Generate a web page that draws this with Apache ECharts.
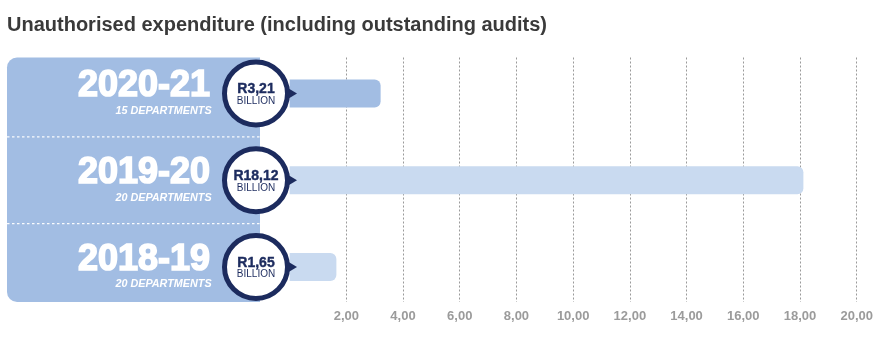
<!DOCTYPE html>
<html><head><meta charset="utf-8">
<script src="https://cdn.jsdelivr.net/npm/echarts@6/dist/echarts.min.js"></script>
<style>html,body{margin:0;padding:0;background:#fff}#c{width:892px;height:343px}</style>
</head><body><div id="c"></div>
<script>
// ---- data ----
const titleText = 'Unauthorised expenditure (including outstanding audits)';
const years = ['2020-21', '2019-20', '2018-19'];
const departments = ['15 DEPARTMENTS', '20 DEPARTMENTS', '20 DEPARTMENTS'];
const values = [3.21, 18.12, 1.65];
const valueLabels = ['R3,21', 'R18,12', 'R1,65'];
const unitLabel = 'BILLION';
const axisMin = 0, axisMax = 20, axisStep = 2;

// ---- styles / layout ----
const FONT = '"Liberation Sans", Arial, sans-serif';
const NAVY = '#1c2b5e';
const barColors = ['#a2bde3', '#c9daf0', '#c9daf0'];
const panelColor = '#a2bde3';
const L = 289.6, R = 35.3;

const chart = echarts.init(document.getElementById('c'), null, {renderer: 'canvas'});

function renderBadge(params, api) {
  const i = api.value(1);
  const p = api.coord([0, i]);
  const band = api.size([0, 1])[1];
  const x0 = p[0], cy = p[1];
  const cx = x0 - 33.6;
  const children = [];
  if (i > 0) {
    children.push({type: 'line', shape: {x1: 7, y1: cy - band / 2, x2: 260, y2: cy - band / 2},
      style: {stroke: 'rgba(255,255,255,0.95)', lineWidth: 1.2, lineDash: [2.5, 2.5]}, z2: 1});
  }
  children.push(
    {type: 'text', style: {text: years[i], x: x0 - 79.5, y: cy - 7, align: 'right', verticalAlign: 'middle',
      fill: '#fff', stroke: '#fff', lineWidth: 1.6, font: 'bold 36px ' + FONT}, z2: 2},
    {type: 'text', style: {text: departments[i], x: x0 - 78, y: cy + 17.5, align: 'right', verticalAlign: 'middle',
      fill: '#fff', font: 'italic bold 10.8px ' + FONT}, z2: 2},
    {type: 'polygon', shape: {points: [[cx + 31, cy - 6], [cx + 41, cy], [cx + 31, cy + 6]]},
      style: {fill: NAVY}, z2: 3},
    {type: 'circle', shape: {cx: cx, cy: cy, r: 31.5},
      style: {fill: '#fff', stroke: NAVY, lineWidth: 5}, z2: 4},
    {type: 'text', style: {text: valueLabels[i], x: cx, y: cy - 4, align: 'center', verticalAlign: 'middle',
      fill: NAVY, stroke: NAVY, lineWidth: 0.4, font: 'bold 14px ' + FONT}, z2: 5},
    {type: 'text', style: {text: unitLabel, x: cx, y: cy + 7.5, align: 'center', verticalAlign: 'middle',
      fill: NAVY, font: '500 10px ' + FONT}, z2: 5}
  );
  return {type: 'group', children: children};
}

const option = {
  animation: false,
  title: {text: titleText, left: 7, top: 15, padding: 0,
    textStyle: {fontFamily: FONT, fontSize: 20, fontWeight: 'bold', color: '#3a3a3a'}},
  graphic: [{
    type: 'rect', z: 0, left: 7, top: 57.5,
    shape: {width: 253, height: 244.5, r: [10, 0, 0, 10]},
    style: {fill: panelColor}
  }],
  grid: [
    {left: L, right: R, top: 57.5, bottom: 41},
    {left: L, right: R, top: 50.1, bottom: 32.6}
  ],
  xAxis: [
    {gridIndex: 0, type: 'value', min: axisMin, max: axisMax, interval: axisStep,
      axisLine: {show: false}, axisTick: {show: false},
      splitLine: {show: true, showMinLine: false, lineStyle: {color: '#9a9a9a', type: [2, 2], width: 1}},
      axisLabel: {margin: 8, color: '#9b9b9b', fontFamily: FONT, fontWeight: 'bold', fontSize: 13,
        formatter: v => v === 0 ? '' : v.toFixed(2).replace('.', ',')}},
    {gridIndex: 1, type: 'value', min: axisMin, max: axisMax, show: false}
  ],
  yAxis: [
    {gridIndex: 0, type: 'value', show: false, min: 0, max: 1},
    {gridIndex: 1, type: 'category', data: years, inverse: true, show: false}
  ],
  series: [
    {type: 'bar', xAxisIndex: 1, yAxisIndex: 1, barWidth: 28, z: 2,
      data: values.map((v, i) => ({value: v, itemStyle: {color: barColors[i], borderRadius: [0, 6, 6, 0]}}))},
    {type: 'custom', xAxisIndex: 1, yAxisIndex: 1, z: 5, renderItem: renderBadge,
      data: years.map((y, i) => [0, i])}
  ]
};
chart.setOption(option);
</script></body></html>
